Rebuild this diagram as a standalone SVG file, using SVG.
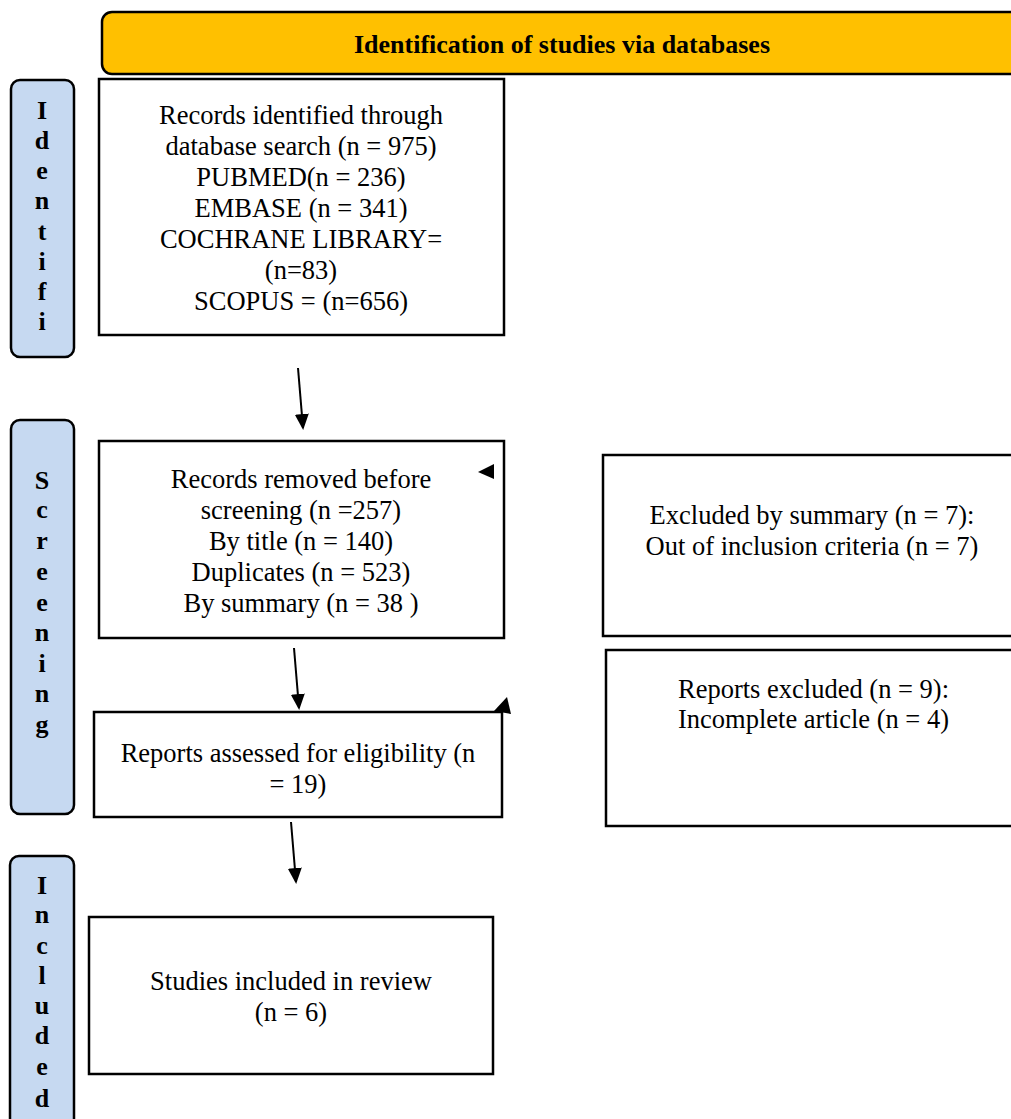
<svg xmlns="http://www.w3.org/2000/svg" width="1011" height="1119" viewBox="0 0 1011 1119">
<style>
.box{fill:#fff;stroke:#000;stroke-width:2.5}
.side{fill:#C6D9F1;stroke:#000;stroke-width:2.5}
.t{font-family:"Liberation Serif","Times New Roman",serif;font-size:26.5px;fill:#000;text-anchor:middle}
.s{font-family:"Liberation Serif","Times New Roman",serif;font-size:26px;font-weight:bold;fill:#000;text-anchor:middle}
.c{stroke:#000;stroke-width:2;fill:none}
</style>
<defs>
<marker id="ah" markerWidth="16" markerHeight="16" refX="14" refY="8" orient="auto" markerUnits="userSpaceOnUse" viewBox="0 0 16 16">
<path d="M0,1 L16,8 L0,15 z" fill="#000"/>
</marker>
</defs>
<rect width="1011" height="1119" fill="#fff"/>
<g id="header">
<rect x="102" y="12" width="940" height="62" rx="10" fill="#FFC000" stroke="#000" stroke-width="2.5"/>
<text class="s" x="562" y="53">Identification of studies via databases</text>
</g>
<g id="side-identification">
<rect class="side" x="11" y="80" width="63" height="277" rx="9"/>
<text class="s" x="42"><tspan x="42" y="119">I</tspan><tspan x="42" y="149">d</tspan><tspan x="42" y="179">e</tspan><tspan x="42" y="209">n</tspan><tspan x="42" y="240">t</tspan><tspan x="42" y="270">i</tspan><tspan x="42" y="300">f</tspan><tspan x="42" y="330">i</tspan></text>
</g>
<g id="side-screening">
<rect class="side" x="11" y="420" width="63" height="394" rx="9"/>
<text class="s" x="42"><tspan x="42" y="489">S</tspan><tspan x="42" y="518">c</tspan><tspan x="42" y="549">r</tspan><tspan x="42" y="580">e</tspan><tspan x="42" y="611">e</tspan><tspan x="42" y="641">n</tspan><tspan x="42" y="672">i</tspan><tspan x="42" y="702">n</tspan><tspan x="42" y="733">g</tspan></text>
</g>
<g id="side-included">
<rect class="side" x="10" y="856" width="64" height="280" rx="9"/>
<text class="s" x="42"><tspan x="42" y="894">I</tspan><tspan x="42" y="923">n</tspan><tspan x="42" y="954">c</tspan><tspan x="42" y="984">l</tspan><tspan x="42" y="1014">u</tspan><tspan x="42" y="1044">d</tspan><tspan x="42" y="1075">e</tspan><tspan x="42" y="1107">d</tspan></text>
</g>
<g id="records-identified">
<rect class="box" x="99" y="79" width="405" height="256"/>
<text class="t"><tspan x="301" y="124">Records identified through</tspan><tspan x="301" y="155">database search (n = 975)</tspan><tspan x="301" y="186">PUBMED(n = 236)</tspan><tspan x="301" y="217">EMBASE (n = 341)</tspan><tspan x="301" y="248">COCHRANE LIBRARY=</tspan><tspan x="301" y="279">(n=83)</tspan><tspan x="301" y="310">SCOPUS = (n=656)</tspan></text>
</g>
<g id="records-removed">
<rect class="box" x="99" y="441" width="405" height="197"/>
<text class="t"><tspan x="301" y="488">Records removed before</tspan><tspan x="301" y="519">screening (n =257)</tspan><tspan x="301" y="550">By title (n = 140)</tspan><tspan x="301" y="581">Duplicates (n = 523)</tspan><tspan x="301" y="612">By summary (n = 38 )</tspan></text>
</g>
<g id="excluded-summary">
<rect class="box" x="603" y="455" width="440" height="181"/>
<text class="t"><tspan x="812" y="524">Excluded by summary (n = 7):</tspan><tspan x="812" y="555">Out of inclusion criteria (n = 7)</tspan></text>
</g>
<g id="reports-assessed">
<rect class="box" x="94" y="712" width="408" height="105"/>
<text class="t"><tspan x="298" y="762">Reports assessed for eligibility (n</tspan><tspan x="298" y="793">= 19)</tspan></text>
</g>
<g id="reports-excluded">
<rect class="box" x="606" y="650" width="440" height="176"/>
<text class="t" style="text-anchor:start"><tspan x="678" y="698">Reports excluded (n = 9):</tspan><tspan x="678" y="728">Incomplete article (n = 4)</tspan></text>
</g>
<g id="studies-included">
<rect class="box" x="89" y="917" width="404" height="157"/>
<text class="t"><tspan x="291" y="990">Studies included in review</tspan><tspan x="291" y="1021">(n = 6)</tspan></text>
</g>
<g id="connectors">
<line class="c" x1="298" y1="368" x2="303" y2="428" marker-end="url(#ah)"/>
<line class="c" x1="294" y1="648" x2="299" y2="708" marker-end="url(#ah)"/>
<line class="c" x1="291" y1="822" x2="296" y2="882" marker-end="url(#ah)"/>
<polygon points="478,472 494,464 494,479" fill="#000"/>
<polygon points="507,697 494,711 511,714" fill="#000"/>
</g>
</svg>
